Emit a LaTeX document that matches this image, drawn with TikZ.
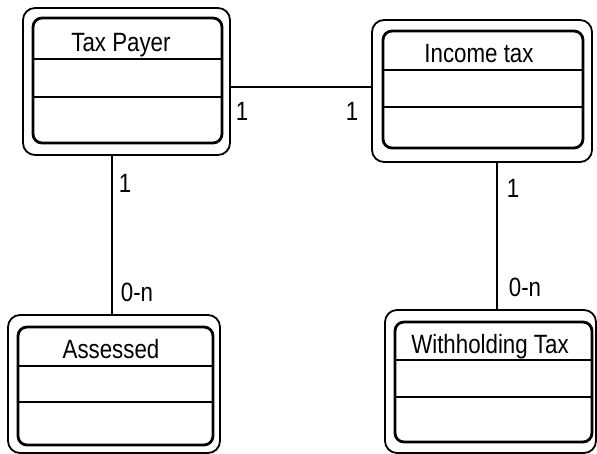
\documentclass[tikz,border=0pt]{standalone}
\usepackage{fontspec}
\setmainfont{Liberation Sans}
% slightly elongated lettering
\newcommand{\tallword}[1]{\scalebox{0.97}[1.15]{#1}}
\begin{document}
\begin{tikzpicture}[x=1pt,y=-1pt,
  entity/.style={draw,line width=1.8pt,rounded corners=12pt,inner sep=0pt},
  innerbox/.style={line width=2.8pt,rounded corners=9pt},
  divider/.style={line width=1.9pt},
  link/.style={line width=1.5pt},
  title/.style={font=\fontsize{23}{26}\selectfont,anchor=base,inner sep=0pt},
  card/.style={font=\fontsize{23}{26}\selectfont,inner sep=0pt}]
\useasboundingbox (0,0) rectangle (597,454);

% Tax Payer
\node[entity,minimum width=207pt,minimum height=147pt] (tp) at (126.5,81.5) {};
\draw[innerbox] (33,18) rectangle (222,143);
\draw[divider] (33,59) -- (222,59) (33,97) -- (222,97);
\node[title] (tpt) at (121,52) {\tallword{Tax Payer}};

% Income tax
\node[entity,minimum width=220pt,minimum height=142pt] (it) at (482,91) {};
\draw[innerbox] (383,31) rectangle (583,148);
\draw[divider] (383,70) -- (583,70) (383,107) -- (583,107);
\node[title] (itt) at (479,63) {\tallword{Income tax}};

% Assessed
\node[entity,minimum width=212pt,minimum height=138pt] (as) at (114,384) {};
\draw[innerbox] (18,327) rectangle (213,445);
\draw[divider] (18,366) -- (213,366) (18,402) -- (213,402);
\node[title] (ast) at (111,359) {\tallword{Assessed}};

% Withholding Tax
\node[entity,minimum width=211pt,minimum height=143pt] (wt) at (490.5,381.5) {};
\draw[innerbox] (395,322) rectangle (592,442);
\draw[divider] (395,360) -- (592,360) (395,397) -- (592,397);
\node[title] (wtt) at (490,353) {\tallword{Withholding Tax}};

% Relationships
\coordinate (hy) at (0,87);
\coordinate (lx) at (112,0);
\coordinate (rx) at (497,0);
\draw[link] (tp.east |- hy) -- (it.west |- hy);
\draw[link] (tp.south -| lx) -- (as.north -| lx);
\draw[link] (it.south -| rx) -- (wt.north -| rx);

% Cardinalities
\node[card] (c1) at (242,111) {\tallword{1}};
\node[card] (c2) at (352,111) {\tallword{1}};
\node[card] (c3) at (125,183) {\tallword{1}};
\node[card] (c4) at (137,292) {\tallword{0-n}};
\node[card] (c5) at (513,188) {\tallword{1}};
\node[card] (c6) at (525,287) {\tallword{0-n}};
\end{tikzpicture}
\end{document}
